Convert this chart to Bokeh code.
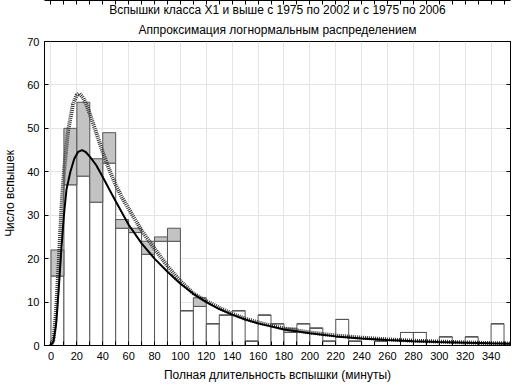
from bokeh.plotting import figure
from bokeh.models import ColumnDataSource, FixedTicker, Title, LinearAxis
from bokeh.embed import file_html
from bokeh.resources import INLINE

# ---- data ----
bin_left = [0, 10, 20, 30, 40, 50, 60, 70, 80, 90, 100, 110, 120, 130, 140, 150, 160,
            170, 180, 190, 200, 210, 220, 230, 240, 250, 260, 270, 280, 290, 300, 310,
            320, 330, 340]
bin_width = 10
count_1975_2002 = [16, 37, 39, 33, 42, 27, 26, 21, 24, 24, 8, 9, 5, 7, 8, 1, 7,
                   5, 3, 5, 4, 1, 6, 1, 0, 1, 0, 3, 3, 0, 2, 0, 2, 0, 5]
count_1975_2006 = [22, 50, 56, 43, 49, 29, 27, 24, 25, 27, 8, 11, 5, 7, 8, 1, 7,
                   5, 4, 5, 4, 1, 6, 1, 0, 1, 0, 3, 3, 0, 2, 0, 2, 0, 5]

fit_2002_x = [0, 2, 4, 6, 8, 10, 12, 15, 18, 21, 24, 27, 30, 35, 40, 45, 50, 55, 60,
              70, 80, 90, 100, 110, 120, 130, 140, 150, 160, 170, 180, 200, 220, 240,
              260, 280, 300, 320, 340, 355]
fit_2002_y = [0, 1, 5, 13, 22, 30, 36, 40, 43, 44.6, 45, 44.5, 43.5, 41.5, 38.8, 36,
              33.2, 30.5, 27.8, 23.5, 20, 17, 14.2, 11.9, 10, 8.4, 7.1, 6, 5.1, 4.4,
              3.7, 2.8, 2.1, 1.6, 1.25, 1.0, 0.8, 0.65, 0.5, 0.42]

fit_2006_x = [0, 2, 4, 6, 8, 10, 13, 17, 20, 22, 25, 28, 31, 35, 40, 45, 50, 55, 60,
              70, 80, 90, 100, 110, 120, 130, 140, 150, 160, 170, 180, 200, 220, 240,
              260, 280, 300, 320, 340, 355]
fit_2006_y = [0, 1.5, 8, 19, 31, 40, 49, 55.5, 57.7, 58, 57, 55, 52.5, 49, 44.5, 40.5,
              37, 34, 31.5, 26.5, 22.3, 18.3, 14.8, 12, 10.2, 8.7, 7.3, 6.2, 5.3, 4.6,
              3.9, 3.0, 2.3, 1.8, 1.4, 1.1, 0.9, 0.7, 0.55, 0.47]

x_ticks = [0, 20, 40, 60, 80, 100, 120, 140, 160, 180, 200, 220, 240, 260, 280, 300, 320, 340]
x_minor = [10, 30, 50, 70, 90, 110, 130, 150, 170, 190, 210, 230, 250, 270, 290, 310, 330, 350]
y_ticks = [0, 10, 20, 30, 40, 50, 60, 70]

title_1 = "Вспышки класса X1 и выше с 1975 по 2002 и с 1975 по 2006"
title_2 = "Аппроксимация логнормальным распределением"
x_label = "Полная длительность вспышки (минуты)"
y_label = "Число вспышек"

FONT = "Liberation Sans"

# ---- build ----
src = ColumnDataSource(dict(
    left=bin_left,
    right=[b + bin_width for b in bin_left],
    white=count_1975_2002,
    total=count_1975_2006,
    zero=[0] * len(bin_left),
))

p = figure(width=515, height=384, x_range=(-5, 355), y_range=(0, 70),
           output_backend="svg", toolbar_location=None,
           min_border_left=0, min_border_right=5, min_border_top=0, min_border_bottom=0)
p.title = None
p.add_layout(Title(text=title_2, align="center", text_font=FONT, text_font_size="12px",
                   text_font_style="normal", text_color="black", standoff=9), "above")
p.add_layout(Title(text=title_1, align="center", text_font=FONT, text_font_size="12px",
                   text_font_style="normal", text_color="black", standoff=0), "above")

p.quad(left="left", right="right", bottom="zero", top="white", source=src,
       fill_color="white", line_color="#555555", line_width=1)
p.quad(left="left", right="right", bottom="white", top="total", source=src,
       fill_color="#c3c3c3", line_color="#555555", line_width=1)

p.line(fit_2006_x, fit_2006_y, line_color="#333333", line_width=4, line_dash="1 1")
p.line(fit_2002_x, fit_2002_y, line_color="black", line_width=2)

p.outline_line_color = "black"
p.outline_line_width = 1

for ax in (p.xaxis[0], p.yaxis[0]):
    ax.major_tick_in = 4
    ax.major_tick_out = 0
    ax.minor_tick_in = 0
    ax.minor_tick_out = 0
    ax.axis_line_color = "black"
    ax.major_tick_line_color = "black"
    ax.major_label_text_font = FONT
    ax.major_label_text_font_size = "11px"
    ax.major_label_text_color = "black"
    ax.axis_label_text_font = FONT
    ax.axis_label_text_font_size = "12px"
    ax.axis_label_text_font_style = "normal"
    ax.axis_label_text_color = "black"

p.xaxis.ticker = FixedTicker(ticks=x_ticks, minor_ticks=x_minor)
p.yaxis.ticker = FixedTicker(ticks=y_ticks)
p.xaxis.minor_tick_in = 4
p.xaxis.minor_tick_line_color = "black"
p.xaxis.axis_label = x_label
p.yaxis.axis_label = y_label
p.xaxis.major_label_standoff = 6
p.xaxis.axis_label_standoff = 5
p.yaxis.major_label_standoff = 5
p.yaxis.axis_label_standoff = 7

top_ax = LinearAxis(ticker=FixedTicker(ticks=x_ticks, minor_ticks=x_minor),
                    major_tick_in=4, major_tick_out=0, minor_tick_in=4, minor_tick_out=0,
                    major_label_overrides={t: "" for t in x_ticks}, major_label_standoff=0,
                    axis_line_color="black")
right_ax = LinearAxis(ticker=FixedTicker(ticks=y_ticks),
                      major_tick_in=4, major_tick_out=0, minor_tick_in=0, minor_tick_out=0,
                      major_label_overrides={t: "" for t in y_ticks}, major_label_standoff=0,
                      axis_line_color="black")
p.add_layout(top_ax, "above")
p.add_layout(right_ax, "right")

p.xgrid.ticker = FixedTicker(ticks=x_ticks)
p.ygrid.ticker = FixedTicker(ticks=y_ticks)
p.xgrid.grid_line_color = "#e4e4e4"
p.ygrid.grid_line_color = "#e4e4e4"

open("out.html", "w").write(file_html(p, INLINE))
